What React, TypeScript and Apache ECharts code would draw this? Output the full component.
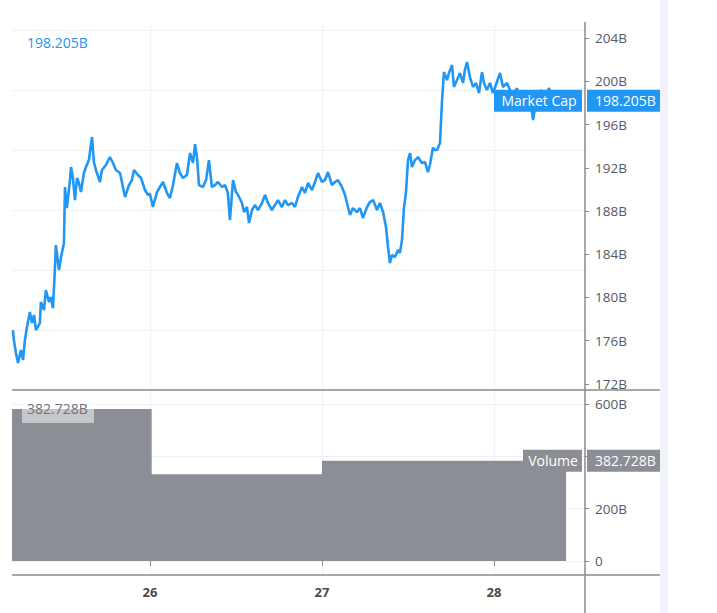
import React, { useEffect, useRef } from "react";
import * as echarts from "echarts";

// Market cap (billions USD) — time in days of the month
const mcDays = [
  25.203, 25.209, 25.221, 25.233, 25.25, 25.262, 25.273, 25.285, 25.302, 25.314, 25.326, 25.337, 25.36, 25.366,
  25.384, 25.395, 25.413, 25.424, 25.436, 25.448, 25.453, 25.471, 25.483, 25.5, 25.506, 25.517, 25.535, 25.541,
  25.552, 25.564, 25.576, 25.587, 25.599, 25.616, 25.628, 25.645, 25.663, 25.674, 25.686, 25.709, 25.721, 25.744,
  25.767, 25.785, 25.802, 25.826, 25.843, 25.855, 25.878, 25.895, 25.907, 25.93, 25.948, 25.971, 25.988, 26.0,
  26.017, 26.041, 26.058, 26.076, 26.099, 26.116, 26.134, 26.157, 26.174, 26.192, 26.215, 26.233, 26.25, 26.262,
  26.273, 26.285, 26.308, 26.326, 26.343, 26.36, 26.378, 26.395, 26.419, 26.436, 26.453, 26.465, 26.483, 26.5,
  26.512, 26.535, 26.547, 26.564, 26.576, 26.593, 26.61, 26.628, 26.651, 26.669, 26.686, 26.709, 26.727, 26.744,
  26.767, 26.785, 26.802, 26.826, 26.843, 26.86, 26.884, 26.901, 26.919, 26.942, 26.959, 26.977, 27.0, 27.017,
  27.035, 27.058, 27.076, 27.093, 27.116, 27.134, 27.151, 27.163, 27.18, 27.203, 27.221, 27.238, 27.262, 27.279,
  27.297, 27.32, 27.337, 27.355, 27.372, 27.384, 27.395, 27.407, 27.424, 27.442, 27.453, 27.465, 27.477, 27.488,
  27.5, 27.512, 27.523, 27.541, 27.558, 27.581, 27.599, 27.616, 27.628, 27.645, 27.657, 27.669, 27.686, 27.698,
  27.709, 27.727, 27.738, 27.756, 27.767, 27.785, 27.802, 27.82, 27.831, 27.843, 27.86, 27.878, 27.895, 27.913,
  27.93, 27.942, 27.959, 27.977, 27.994, 28.017, 28.035, 28.052, 28.076, 28.093, 28.11, 28.134, 28.151, 28.174,
  28.198, 28.215, 28.227, 28.238, 28.25, 28.273, 28.297, 28.32, 28.343, 28.366, 28.39, 28.419,
];
const mcValues = [
  176.99, 176.06, 174.86, 173.94, 175.14, 174.21, 176.06, 177.27, 178.65, 177.64, 178.38, 176.99, 177.64, 179.58,
  178.84, 180.69, 179.58, 180.04, 179.02, 182.82, 184.85, 182.54, 183.74, 185.04, 190.22, 188.27, 190.86, 192.07,
  191.05, 189.01, 191.05, 190.59, 189.75, 191.51, 192.07, 192.71, 194.84, 192.53, 191.79, 190.68, 191.79, 192.25,
  192.99, 192.44, 191.79, 191.51, 190.22, 189.29, 190.4, 190.86, 191.79, 191.33, 191.05, 189.94, 189.48, 189.6,
  188.37, 189.75, 190.22, 190.68, 189.66, 189.2, 190.4, 192.44, 191.51, 191.05, 191.33, 193.36, 192.44, 194.19,
  192.99, 190.4, 190.22, 190.86, 192.71, 190.22, 190.4, 190.68, 190.22, 190.4, 189.66, 187.16, 190.86, 189.75,
  189.48, 188.74, 187.9, 188.37, 186.89, 188.09, 188.55, 188.09, 188.74, 189.48, 188.74, 188.09, 188.55, 189.01,
  188.37, 189.01, 188.55, 188.74, 188.37, 189.29, 190.22, 189.66, 190.59, 189.94, 190.68, 191.51, 190.68, 190.86,
  191.6, 190.4, 190.68, 190.86, 190.22, 189.48, 188.37, 187.63, 188.27, 187.9, 188.27, 187.35, 188.37, 188.83,
  189.01, 188.09, 188.74, 187.9, 186.52, 184.67, 183.19, 183.93, 183.74, 184.39, 184.11, 185.31, 188.37, 189.66,
  192.71, 193.36, 192.07, 192.71, 192.99, 192.44, 192.53, 191.6, 192.3, 193.85, 193.64, 193.64, 194.29, 198.26,
  200.85, 200.11, 200.76, 201.5, 199.47, 200.11, 200.76, 199.84, 201.04, 201.78, 200.39, 199.47, 199.84, 198.91,
  200.85, 199.84, 199.19, 199.84, 198.91, 199.93, 200.76, 199.47, 199.84, 199.19, 198.73, 199.37, 197.3, 198.45,
  199.0, 197.8, 196.41, 197.5, 198.26, 199.19, 198.45, 199.37, 198.26, 199.0, 198.36, 198.205,
];

// Daily volume (billions USD): day start and value; last bar runs to volEnd
const volDays = [25.198, 26.01, 27];
const volValues = [581, 332, 382.728];
const volEnd = 28.419;

// Tick labels
const dayTicks = [26, 27, 28];
const mcTicks = [172, 176, 180, 184, 188, 192, 196, 200, 204];
const mcGridLines = [0, 1, 2, 3, 4, 5, 6];
const volTickMarks = [0, 200, 400, 600];
const volTickLabels = [0, 200, 600];

const FONT = "'Open Sans', 'Noto Sans', sans-serif";
const BLUE = "#2196f3";
const GREY = "#8b8e95";
const AXIS = "#8a8a8a";
const GRIDC = "#eef1f6";

export default function App() {
  const ref = useRef<HTMLDivElement>(null);
  useEffect(() => {
    if (!ref.current) return;
    const chart = echarts.init(ref.current, null, { renderer: "svg" });
    const mcData = mcDays.map((d, i) => [d, mcValues[i]]);
    const volData = volDays.map((d, i) => [d, volValues[i]]);
    volData.push([volEnd, volValues[volValues.length - 1]]);
    const xMin = 25.198;
    const xMax = 28.529;

    const xBase = (gridIndex: number, showLabels: boolean) => ({
      type: "value",
      gridIndex,
      min: xMin,
      max: xMax,
      axisLine: { show: false },
      axisTick: {
        show: showLabels,
        customValues: dayTicks,
        length: 5,
        lineStyle: { color: AXIS },
      },
      axisLabel: {
        show: showLabels,
        customValues: dayTicks,
        margin: 10,
        color: "#4a4a4a",
        fontWeight: "bold",
        fontSize: 13,
        fontFamily: FONT,
        formatter: (v: number) => String(v),
      },
      splitLine: { show: true, lineStyle: { color: GRIDC, width: 1 } },
    });

    chart.setOption({
      animation: false,
      backgroundColor: "#ffffff",
      grid: [
        { left: 12, right: 132, top: 22, height: 368 },
        { left: 12, right: 132, top: 390, height: 185 },
      ],
      xAxis: [xBase(0, false), xBase(1, true)],
      yAxis: [
        {
          type: "value",
          gridIndex: 0,
          position: "right",
          min: 171.445,
          max: 205.48,
          axisLine: { show: false },
          axisTick: { show: true, customValues: mcTicks, length: 4, lineStyle: { color: AXIS } },
          axisLabel: {
            customValues: mcTicks,
            margin: 10,
            color: "#555a63",
            fontSize: 13.5,
            fontFamily: FONT,
            formatter: (v: number) => v + "B",
          },
          splitLine: { show: false },
        },
        {
          type: "value",
          gridIndex: 0,
          position: "left",
          min: 0,
          max: 6.1333,
          axisLine: { show: false },
          axisTick: { show: false, customValues: mcGridLines },
          axisLabel: { show: false },
          splitLine: { show: true, lineStyle: { color: GRIDC, width: 1 } },
        },
        {
          type: "value",
          gridIndex: 1,
          position: "right",
          min: -53.5,
          max: 653.5,
          axisLine: { show: false },
          axisTick: { show: true, customValues: volTickMarks, length: 4, lineStyle: { color: AXIS } },
          axisLabel: {
            customValues: volTickLabels,
            margin: 10,
            color: "#555a63",
            fontSize: 13.5,
            fontFamily: FONT,
            formatter: (v: number) => (v === 0 ? "0" : v + "B"),
          },
          splitLine: { show: true, lineStyle: { color: GRIDC, width: 1 } },
        },
      ],
      series: [
        {
          name: "Market Cap",
          type: "line",
          xAxisIndex: 0,
          yAxisIndex: 0,
          data: mcData,
          showSymbol: false,
          symbol: "none",
          lineStyle: { color: BLUE, width: 2.6 },
          z: 3,
        },
        {
          name: "Volume",
          type: "line",
          step: "end",
          xAxisIndex: 1,
          yAxisIndex: 2,
          data: volData,
          showSymbol: false,
          symbol: "none",
          lineStyle: { color: GREY, width: 0 },
          areaStyle: { color: GREY, opacity: 1 },
          z: 2,
        },
      ],
    });

    const lastMC = mcValues[mcValues.length - 1];
    const lastVol = volValues[volValues.length - 1];
    const yMC = chart.convertToPixel({ yAxisIndex: 0 }, lastMC) as number;
    const yVol = chart.convertToPixel({ yAxisIndex: 2 }, lastVol) as number;
    const yVolTop = chart.convertToPixel({ yAxisIndex: 2 }, volValues[0]) as number;
    const axisX = 585;
    const paneRight = 660;
    const txt = (x: number, y: number, text: string, fill: string, align = "left") => ({
      type: "text",
      x,
      y,
      style: { text, fill, font: `14px ${FONT}`, textAlign: align, textVerticalAlign: "middle" },
      z: 102,
    });
    const line = (x1: number, y1: number, x2: number, y2: number, stroke: string, w: number) => ({
      type: "line",
      shape: { x1, y1, x2, y2 },
      style: { stroke, lineWidth: w },
      z: 99,
    });

    chart.setOption({
      graphic: [
        { type: "rect", shape: { x: 660, y: 0, width: 8, height: 613 }, style: { fill: "#f0f3fa" }, z: 90 },
        line(12, 390, paneRight, 390, AXIS, 1.5),
        line(12, 575, paneRight, 575, AXIS, 1.5),
        line(axisX, 22, axisX, 613, AXIS, 1.5),
        // Market cap labels
        txt(27, 42, lastMC.toFixed(3) + "B", BLUE),
        { type: "rect", shape: { x: 494, y: yMC - 11, width: 88, height: 22 }, style: { fill: BLUE }, z: 100 },
        { type: "rect", shape: { x: 587, y: yMC - 11, width: 73, height: 22 }, style: { fill: BLUE }, z: 100 },
        line(586, yMC, 590, yMC, "#ffffff", 1),
        txt(539, yMC, "Market Cap", "#ffffff", "center"),
        txt(595, yMC, lastMC.toFixed(3) + "B", "#ffffff"),
        // Volume labels
        { type: "rect", shape: { x: 22, y: yVolTop - 12, width: 72, height: 26 }, style: { fill: "rgba(255,255,255,0.5)" }, z: 100 },
        txt(27, yVolTop, lastVol.toFixed(3) + "B", "#6f7279"),
        { type: "rect", shape: { x: 523, y: yVol - 11, width: 59, height: 22 }, style: { fill: GREY }, z: 100 },
        { type: "rect", shape: { x: 587, y: yVol - 11, width: 73, height: 22 }, style: { fill: GREY }, z: 100 },
        line(586, yVol, 590, yVol, "#ffffff", 1),
        txt(553, yVol, "Volume", "#ffffff", "center"),
        txt(595, yVol, lastVol.toFixed(3) + "B", "#ffffff"),
      ],
    });

    return () => chart.dispose();
  }, []);

  return (
    <div
      ref={ref}
      style={{ position: "fixed", left: 0, top: 0, width: 717, height: 613, background: "#fff" }}
    />
  );
}
